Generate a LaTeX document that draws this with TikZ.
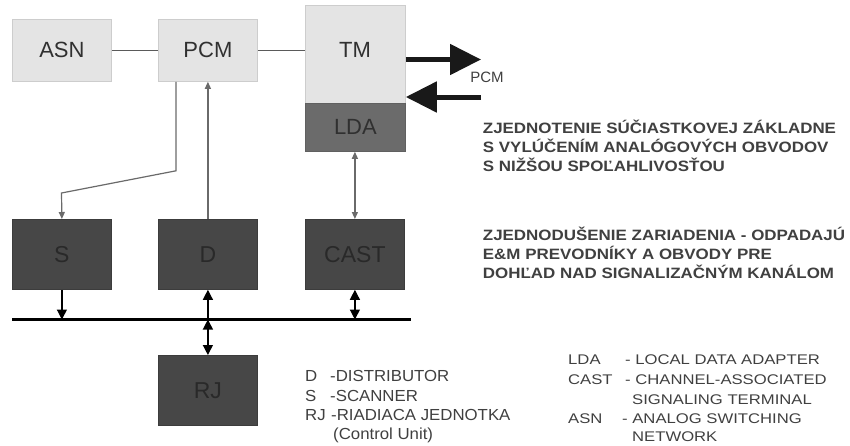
\documentclass[tikz,border=0pt]{standalone}
\usepackage{fontspec}
\setmainfont{Liberation Sans}
\usepackage{graphicx}
\usetikzlibrary{arrows.meta}
\definecolor{lightfill}{HTML}{E4E4E4}
\definecolor{lightedge}{HTML}{CDCDCD}
\definecolor{midfill}{HTML}{6B6B6B}
\definecolor{darkfill}{HTML}{474747}
\definecolor{darktext}{HTML}{292929}
\definecolor{boxtext}{HTML}{303030}
\definecolor{conn}{HTML}{6A6A6A}
\definecolor{notetext}{HTML}{404040}
\newcommand\hs[2]{\scalebox{#1}[1]{#2}}
\tikzset{
  lbox/.style={draw=lightedge, fill=lightfill, line width=0.8pt, inner sep=0pt,
    anchor=north west, text=boxtext, font=\fontsize{22}{26}\selectfont},
  dbox/.style={draw=darkfill!85!black, fill=darkfill, line width=0.8pt, inner sep=0pt,
    anchor=north west, minimum width=99pt, minimum height=70pt, text=darktext,
    font=\fontsize{23}{27}\selectfont},
  upconn/.style={draw=conn, line width=1.2pt},
  uparrow/.style={upconn, -{Triangle[length=7pt,width=6pt]}},
  updbl/.style={upconn, {Triangle[length=7pt,width=6pt]}-{Triangle[length=7pt,width=6pt]}},
  lowarrow/.style={draw=black, line width=1.3pt, -{Triangle[length=10pt,width=10pt]}},
  lowdbl/.style={draw=black, line width=1.3pt, {Triangle[length=10pt,width=10pt]}-{Triangle[length=10pt,width=10pt]}},
  busline/.style={draw=black, line width=3pt},
  bigarrow/.style={draw=black!90, line width=5pt, -{Triangle[length=31pt,width=30pt]}},
  notebig/.style={anchor=base west, inner sep=0pt, text=notetext, font=\bfseries\fontsize{15}{18}\selectfont},
  noteL/.style={anchor=base west, inner sep=0pt, text=notetext, font=\fontsize{16}{19}\selectfont},
  noteR/.style={anchor=base west, inner sep=0pt, text=notetext, font=\fontsize{14}{17}\selectfont},
  pcmtxt/.style={inner sep=0pt, text=notetext, font=\fontsize{15}{18}\selectfont}
}
\begin{document}
\begin{tikzpicture}[x=1pt,y=-1pt]
\useasboundingbox[fill=white] (0,0) rectangle (850,445);

% top row boxes
\node[lbox, minimum width=99pt, minimum height=62pt] (asn) at (12,19) {ASN};
\node[lbox, minimum width=99pt, minimum height=62pt] (pcm) at (158,19) {PCM};
\node[lbox, minimum width=100pt, minimum height=98pt] (tm) at (305,5) {};
\node[inner sep=0pt, text=boxtext, font=\fontsize{22}{26}\selectfont] (tmlabel) at (355,50) {TM};
\node[lbox, fill=midfill, draw=midfill!90!black, minimum width=100pt, minimum height=48pt, text=boxtext] (lda) at (305,103) {LDA};

% middle row boxes
\node[dbox] (s) at (12,219) {S};
\node[dbox] (d) at (158,219) {D};
\node[dbox] (cast) at (305,219) {CAST};
\node[dbox] (rj) at (158,355) {RJ};

% top connectors
\draw[upconn, draw=conn!85!black, line width=1.5pt] (asn.east) -- (pcm.west);
\draw[upconn, draw=conn!85!black, line width=1.5pt] (pcm.east) -- (pcm.east -| tm.west);
\draw[uparrow] ([xshift=18pt]pcm.south west) -- ++(0,89) -- (61.5,193) -- (s.north);
\draw[uparrow] (d.north) -- (d.north |- pcm.south);
\draw[updbl] (cast.north) -- (cast.north |- lda.south);

% PCM big arrows
\coordinate (pcmout) at (481,59.5);
\coordinate (pcmin) at (481,97);
\draw[bigarrow] (tm.east |- pcmout) -- (pcmout);
\draw[bigarrow] (pcmin) -- (tm.east |- pcmin);
\node[pcmtxt] (pcmlabel) at (487,77) {PCM};

% bus
\coordinate (busL) at (12,319.5);
\coordinate (busR) at (411,319.5);
\draw[busline] (busL) -- (busR);
\draw[lowarrow] (s.south) -- (s.south |- busL);
\draw[lowarrow] (d.south |- busL) -- (d.south);
\draw[lowdbl] (rj.north |- busL) -- (rj.north);
\draw[lowdbl] (cast.south) -- (cast.south |- busL);

% right notes
\node[notebig] (n1) at (482.7,133.3) {\hs{1.13}{ZJEDNOTENIE SÚČIASTKOVEJ ZÁKLADNE}};
\node[notebig] (n2) at (482.7,152.7) {\hs{1.13}{S VYLÚČENÍM ANALÓGOVÝCH OBVODOV}};
\node[notebig] (n3) at (482.7,171.5) {\hs{1.13}{S NIŽŠOU SPOĽAHLIVOSŤOU}};
\node[notebig] (m1) at (482.7,240) {\hs{1.13}{ZJEDNODUŠENIE ZARIADENIA - ODPADAJÚ}};
\node[notebig] (m2) at (482.7,259.3) {\hs{1.13}{E\&M PREVODNÍKY A OBVODY PRE}};
\node[notebig] (m3) at (482.7,278.3) {\hs{1.13}{DOHĽAD NAD SIGNALIZAČNÝM KANÁLOM}};

% left legend
\node[noteL] (lg1a) at (305,381.7) {\hs{1.05}{D}};
\node[noteL] (lg1b) at (330,381.7) {\hs{1.05}{-DISTRIBUTOR}};
\node[noteL] (lg2a) at (305,401.7) {\hs{1.05}{S}};
\node[noteL] (lg2b) at (330,401.7) {\hs{1.05}{-SCANNER}};
\node[noteL] (lg3a) at (305,420.7) {\hs{1.05}{RJ}};
\node[noteL] (lg3b) at (331,420.7) {\hs{1.05}{-RIADIACA JEDNOTKA}};
\node[noteL] (lg4b) at (333,439) {\hs{1.05}{(Control Unit)}};

% right legend
\node[noteR] (rg1a) at (568,364) {\hs{1.19}{LDA}};
\node[noteR] (rg1b) at (625,364) {\hs{1.19}{- LOCAL DATA ADAPTER}};
\node[noteR] (rg2a) at (568,384) {\hs{1.19}{CAST}};
\node[noteR] (rg2b) at (625,384) {\hs{1.19}{- CHANNEL-ASSOCIATED}};
\node[noteR] (rg3b) at (632,404) {\hs{1.19}{SIGNALING TERMINAL}};
\node[noteR] (rg4a) at (568,423.3) {\hs{1.19}{ASN}};
\node[noteR] (rg4b) at (622,423.3) {\hs{1.19}{- ANALOG SWITCHING}};
\node[noteR] (rg5b) at (632,441.7) {\hs{1.19}{NETWORK}};
\end{tikzpicture}
\end{document}
